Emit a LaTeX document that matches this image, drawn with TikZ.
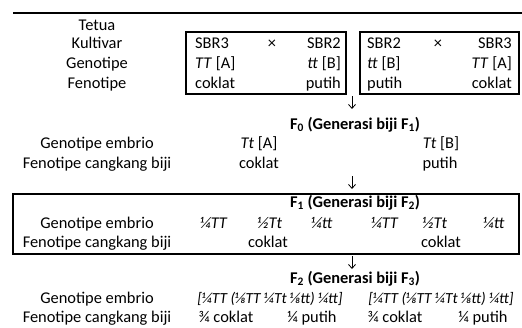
\documentclass[tikz,border=0pt]{standalone}
\usepackage{fontspec}
\setmainfont{Carlito}
\usetikzlibrary{arrows.meta}
\newcommand{\gt}[1]{\textit{#1}}
\begin{document}
\begin{tikzpicture}[x=1pt,y=-1pt,
  every node/.style={inner sep=0pt, text height=10.5pt, text depth=0pt,
    font=\fontsize{16.4}{19}\selectfont},
  hdr/.style={font=\fontsize{16.4}{19}\selectfont\bfseries},
  tight/.style={font=\fontsize{15.4}{19}\selectfont},
  frame/.style={draw, line width=1.2pt},
  rule/.style={line width=2.6pt},
  down/.style={-{Straight Barb[length=4pt,width=7pt]}, line width=0.8pt},
]
\useasboundingbox (0,0) rectangle (522,327);

% heading rule
\coordinate (r0) at (13,13);
\coordinate (r1) at (522,13);
\draw[rule] (r0) -- (r1);

% parents
\node (tetua) at (97,25) {Tetua};
\node (lkul) at (97,43) {Kultivar};
\node (lgen) at (97,63) {Genotipe};
\node (lfen) at (97,83) {Fenotipe};

\draw[frame] (186,32) rectangle (346,94);
\node[anchor=west] (c1a) at (195,43) {SBR3};
\node[anchor=west] (c1b) at (195,63) {\gt{TT} [A]};
\node[anchor=west] (c1c) at (195,83) {coklat};
\node (x1) at (272,43) {×};
\node[anchor=east] (c2a) at (341,43) {SBR2};
\node[anchor=east] (c2b) at (341,63) {\gt{tt} [B]};
\node[anchor=east] (c2c) at (341,83) {putih};

\draw[frame] (360,32) rectangle (519,94);
\node[anchor=west] (c3a) at (367,43) {SBR2};
\node[anchor=west] (c3b) at (367,63) {\gt{tt} [B]};
\node[anchor=west] (c3c) at (367,83) {putih};
\node (x2) at (438,43) {×};
\node[anchor=east] (c4a) at (512,43) {SBR3};
\node[anchor=east] (c4b) at (512,63) {\gt{TT} [A]};
\node[anchor=east] (c4c) at (512,83) {coklat};

\coordinate (a1s) at (352,96);
\coordinate (a1e) at (352,109);
\draw[down] (a1s) -- (a1e);

% F0
\node[hdr] (f0) at (355,124) {F\textsubscript{0} (Generasi biji F\textsubscript{1})};
\node (g0) at (97,143) {Genotipe embrio};
\node (p0) at (97,163) {Fenotipe cangkang biji};
\node (g0a) at (259,143) {\gt{Tt} [A]};
\node (p0a) at (259,163) {coklat};
\node (g0b) at (441,143) {\gt{Tt} [B]};
\node (p0b) at (440,163) {putih};

\coordinate (a2s) at (352,176);
\coordinate (a2e) at (352,189);
\draw[down] (a2s) -- (a2e);

% F1
\draw[frame] (13,194) rectangle (519,254);
\node[hdr] (f1) at (355,202) {F\textsubscript{1} (Generasi biji F\textsubscript{2})};
\node (g1) at (97,223) {Genotipe embrio};
\node (p1) at (97,242) {Fenotipe cangkang biji};
\node (g1a) at (214,223) {\gt{¼TT}};
\node (g1b) at (270,223) {\gt{½Tt}};
\node (g1c) at (322,223) {\gt{¼tt}};
\node (g1d) at (385,223) {\gt{¼TT}};
\node (g1e) at (435,223) {\gt{½Tt}};
\node (g1f) at (494,223) {\gt{¼tt}};
\node (p1a) at (268,242) {coklat};
\node (p1b) at (441,242) {coklat};

\coordinate (a3s) at (352,256);
\coordinate (a3e) at (352,269);
\draw[down] (a3s) -- (a3e);

% F2
\node[hdr] (f2) at (355,278) {F\textsubscript{2} (Generasi biji F\textsubscript{3})};
\node (g2) at (97,298) {Genotipe embrio};
\node (p2) at (97,317) {Fenotipe cangkang biji};
\node[tight] (g2a) at (270,298) {\gt{[¼TT (⅛TT ¼Tt ⅛tt) ¼tt]}};
\node[tight] (g2b) at (441,298) {\gt{[¼TT (⅛TT ¼Tt ⅛tt) ¼tt]}};
\node (p2a) at (226,317) {¾ coklat};
\node (p2b) at (312,317) {¼ putih};
\node (p2c) at (395,317) {¾ coklat};
\node (p2d) at (483,317) {¼ putih};
\end{tikzpicture}
\end{document}
